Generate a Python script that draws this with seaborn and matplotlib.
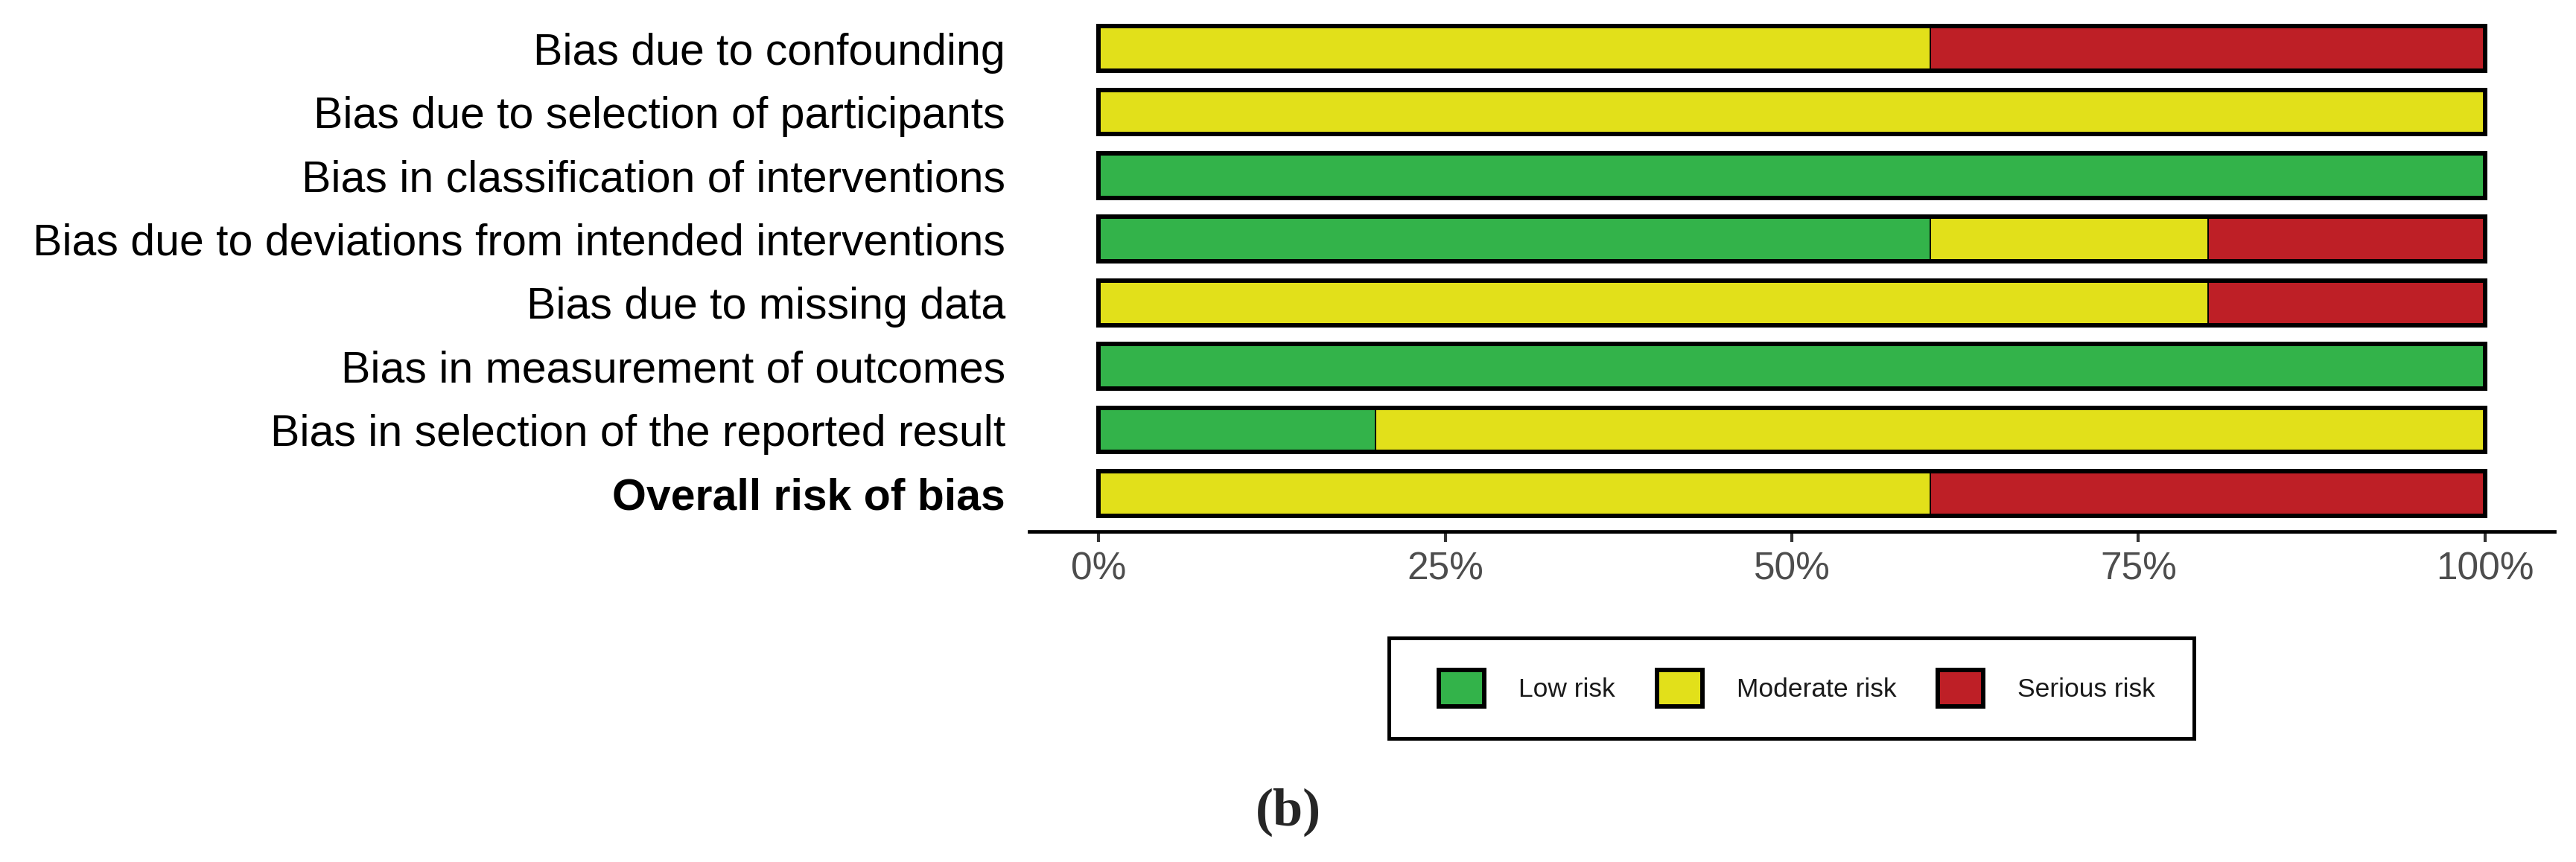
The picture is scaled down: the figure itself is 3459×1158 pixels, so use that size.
import numpy as np
import pandas as pd
import matplotlib
matplotlib.use("Agg")
import matplotlib.pyplot as plt
from matplotlib.patches import Patch, Rectangle
import seaborn as sns

# ROBINS-I domains, top to bottom
domains = [
    "Bias due to confounding",
    "Bias due to selection of participants",
    "Bias in classification of interventions",
    "Bias due to deviations from intended interventions",
    "Bias due to missing data",
    "Bias in measurement of outcomes",
    "Bias in selection of the reported result",
    "Overall risk of bias",
]
# percent of studies per judgement
low_risk = [0, 0, 100, 60, 0, 100, 20, 0]
moderate_risk = [60, 100, 0, 20, 80, 0, 80, 60]
serious_risk = [40, 0, 0, 20, 20, 0, 0, 40]

judgements = ["Low risk", "Moderate risk", "Serious risk"]
colors = ["#33B34A", "#E2E01A", "#BE1F26"]

x_ticks = [0, 25, 50, 75, 100]
x_ticklabels = ["0%", "25%", "50%", "75%", "100%"]

W, H = 3459, 1158

df = pd.DataFrame({
    "domain": domains,
    "low": low_risk,
    "moderate": moderate_risk,
    "serious": serious_risk,
})
# cumulative ends so the bars can be layered back to front
df["cum_low"] = df["low"]
df["cum_mod"] = df["low"] + df["moderate"]
df["cum_all"] = df["low"] + df["moderate"] + df["serious"]

sns.set_theme(style="white")
plt.rcParams["font.family"] = ["Liberation Sans", "DejaVu Sans"]

fig = plt.figure(figsize=(W / 100, H / 100), dpi=100)
ax = fig.add_axes([1382 / W, 1 - 714 / H, (3430 - 1382) / W, (714 - 14) / H])

seg_lw = 1.4
for col, c in zip(["cum_all", "cum_mod", "cum_low"], colors[::-1]):
    sns.barplot(data=df, y="domain", x=col, order=domains, orient="h",
                color=c, saturation=1, width=0.7, edgecolor="black",
                linewidth=seg_lw, ax=ax, errorbar=None)
# heavy outline around each full bar
sns.barplot(data=df, y="domain", x="cum_all", order=domains, orient="h",
            fill=False, width=0.7, edgecolor="black", linewidth=4.3,
            ax=ax, errorbar=None)

ax.set_xlim(-5, 105)
ax.set_ylim(len(domains) - 0.4, -0.6)
ax.set_xlabel("")
ax.set_ylabel("")
ax.set_xticks(x_ticks)
ax.set_xticklabels(x_ticklabels)

for s in ["top", "right", "left"]:
    ax.spines[s].set_visible(False)
ax.spines["bottom"].set_color("black")
ax.spines["bottom"].set_linewidth(3.4)

ax.tick_params(axis="x", length=10, width=3, color="#333333", pad=9,
               labelsize=37, labelcolor="#4D4D4D", bottom=True)
ax.tick_params(axis="y", length=0, pad=23, labelsize=42.5, labelcolor="black")
ax.get_yticklabels()[-1].set_fontweight("bold")

handles = [Patch(facecolor=c, edgecolor="black", linewidth=4.3) for c in colors]
fig.legend(handles, judgements, loc="center", ncol=3, frameon=False,
           bbox_to_anchor=(2413 / W, 1 - 924.5 / H), fontsize=25.5,
           handlelength=1.72, handleheight=1.72, handletextpad=1.3,
           columnspacing=1.58, labelcolor="#1A1A1A")
fig.patches.append(Rectangle((1865 / W, 1 - 992 / H), (2946 - 1865) / W, 135 / H,
                             transform=fig.transFigure, fill=False,
                             edgecolor="black", linewidth=3.6))

fig.text(0.5, 1 - 1091 / H, "(b)", ha="center", va="center", fontsize=52,
         fontweight="bold", family=["Liberation Serif", "DejaVu Serif"])

fig.savefig("out.png", dpi=100, facecolor="white")
